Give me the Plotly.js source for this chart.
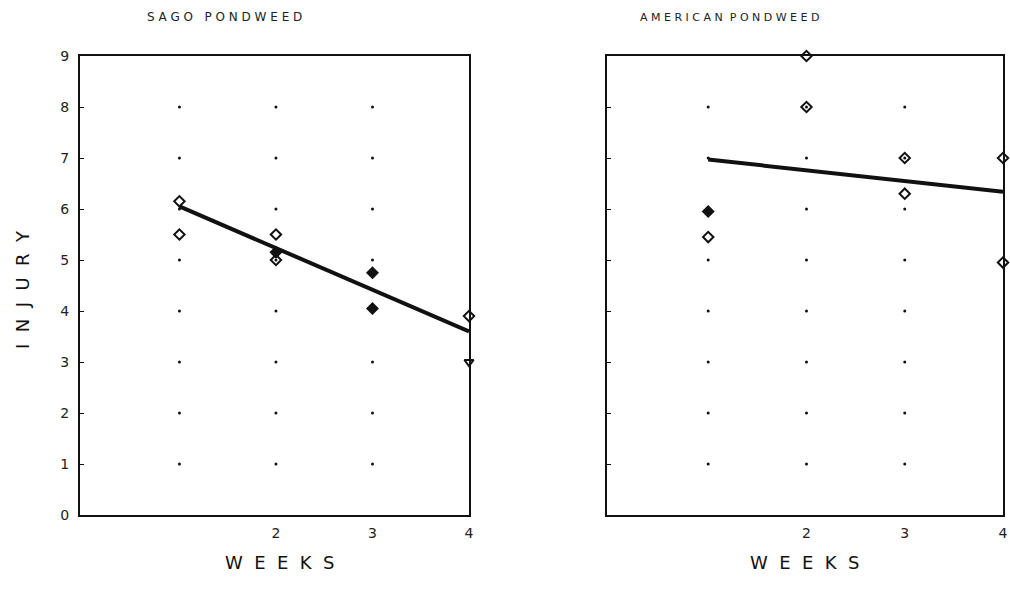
<!DOCTYPE html>
<html><head><meta charset="utf-8">
<script src="https://cdn.plot.ly/plotly-3.0.1.min.js"></script>
<style>html,body{margin:0;padding:0;background:#fff}#chart{width:1010px;height:589px}</style>
</head><body><div id="chart"></div>
<script>
// Sago pondweed observations
const sagoOpenX = [1, 1, 2, 2, 4];
const sagoOpenY = [6.15, 5.5, 5.5, 5.0, 3.9];
const sagoFilledX = [2, 3, 3];
const sagoFilledY = [5.15, 4.75, 4.05];
const sagoLowX = [4];
const sagoLowY = [3.0];
const sagoFitX = [1, 4];
const sagoFitY = [6.05, 3.6];

// American pondweed observations
const amerOpenX = [1, 2, 2, 3, 3, 4, 4];
const amerOpenY = [5.45, 9.0, 8.0, 7.0, 6.3, 7.0, 4.95];
const amerFilledX = [1];
const amerFilledY = [5.95];
const amerFitX = [1, 4];
const amerFitY = [6.97, 6.34];

// axes
const weekTicks = [2, 3, 4];
const weekLabels = ['2', '3', '4'];
const injuryTicks = [0, 1, 2, 3, 4, 5, 6, 7, 8, 9];
const injuryLabels = ['0', '1', '2', '3', '4', '5', '6', '7', '8', '9'];
const gridWeeks = [1, 2, 3];
const gridInjury = [1, 2, 3, 4, 5, 6, 7, 8];

const gx = [], gy = [];
gridWeeks.forEach(w => gridInjury.forEach(v => { gx.push(w); gy.push(v); }));

const ink = '#111';
const font = 'DejaVu Sans, sans-serif';

function openMarks(x, y, xa, ya) {
  return {x, y, xaxis: xa, yaxis: ya, type: 'scatter', mode: 'markers', cliponaxis: false,
    marker: {symbol: 'diamond-open', size: 8, color: ink, line: {width: 2, color: ink}}, showlegend: false, hoverinfo: 'x+y'};
}
function filledMarks(x, y, xa, ya) {
  return {x, y, xaxis: xa, yaxis: ya, type: 'scatter', mode: 'markers', cliponaxis: false,
    marker: {symbol: 'diamond', size: 10, color: ink}, showlegend: false, hoverinfo: 'x+y'};
}
function gridMarks(xa, ya) {
  return {x: gx, y: gy, xaxis: xa, yaxis: ya, type: 'scatter', mode: 'markers',
    marker: {symbol: 'circle', size: 3, color: ink}, showlegend: false, hoverinfo: 'skip'};
}
function fitLine(x, y, xa, ya) {
  return {x, y, xaxis: xa, yaxis: ya, type: 'scatter', mode: 'lines', cliponaxis: false,
    line: {color: ink, width: 4}, showlegend: false, hoverinfo: 'skip'};
}

const data = [
  gridMarks('x', 'y'),
  fitLine(sagoFitX, sagoFitY, 'x', 'y'),
  openMarks(sagoOpenX, sagoOpenY, 'x', 'y'),
  filledMarks(sagoFilledX, sagoFilledY, 'x', 'y'),
  {x: sagoLowX, y: sagoLowY, xaxis: 'x', yaxis: 'y', type: 'scatter', mode: 'markers', cliponaxis: false,
   marker: {symbol: 'triangle-down-open', size: 8, color: ink, line: {width: 2, color: ink}}, showlegend: false},
  gridMarks('x2', 'y2'),
  fitLine(amerFitX, amerFitY, 'x2', 'y2'),
  openMarks(amerOpenX, amerOpenY, 'x2', 'y2'),
  filledMarks(amerFilledX, amerFilledY, 'x2', 'y2')
];

const xBase = {range: [-0.03, 4], tickvals: weekTicks, ticktext: weekLabels, showgrid: false, zeroline: false,
  showline: true, linecolor: ink, linewidth: 2, mirror: true, ticks: '', ticklabelstandoff: 4,
  tickfont: {family: font, size: 14, color: '#222'}};
const yBase = {range: [0, 9], tickvals: injuryTicks, ticktext: injuryLabels, showgrid: false, zeroline: false,
  showline: true, linecolor: ink, linewidth: 2, mirror: true, ticks: 'inside', ticklen: 4, tickcolor: ink,
  tickfont: {family: font, size: 14, color: '#222'}, ticklabelstandoff: 6};

const layout = {
  width: 1010, height: 589,
  margin: {l: 0, r: 0, t: 0, b: 0},
  paper_bgcolor: '#fff', plot_bgcolor: '#fff',
  xaxis: Object.assign({}, xBase, {domain: [80/1010, 469/1010], anchor: 'y'}),
  yaxis: Object.assign({}, yBase, {domain: [74/589, 533/589], anchor: 'x'}),
  xaxis2: Object.assign({}, xBase, {domain: [607/1010, 1003/1010], anchor: 'y2'}),
  yaxis2: Object.assign({}, yBase, {domain: [74/589, 533/589], anchor: 'x2', showticklabels: false}),
  annotations: [
    {text: 'S A G O   P O N D W E E D', xref: 'paper', yref: 'paper', x: 224/1010, y: 1 - 17/589,
     showarrow: false, font: {family: font, size: 12, color: '#222'}, xanchor: 'center', yanchor: 'middle'},
    {text: 'A M E R I C A N  P O N D W E E D', xref: 'paper', yref: 'paper', x: 729/1010, y: 1 - 17/589,
     showarrow: false, font: {family: font, size: 11, color: '#222'}, xanchor: 'center', yanchor: 'middle'},
    {text: 'W  E  E  K  S', xref: 'paper', yref: 'paper', x: 280/1010, y: 1 - 562/589,
     showarrow: false, font: {family: font, size: 18, color: '#111'}, xanchor: 'center', yanchor: 'middle'},
    {text: 'W  E  E  K  S', xref: 'paper', yref: 'paper', x: 805/1010, y: 1 - 562/589,
     showarrow: false, font: {family: font, size: 18, color: '#111'}, xanchor: 'center', yanchor: 'middle'},
    {text: 'I  N  J  U  R  Y', xref: 'paper', yref: 'paper', x: 22/1010, y: 1 - 290/589, textangle: -90,
     showarrow: false, font: {family: font, size: 18, color: '#111'}, xanchor: 'center', yanchor: 'middle'}
  ]
};

Plotly.newPlot('chart', data, layout, {staticPlot: true});
</script>
</body></html>
